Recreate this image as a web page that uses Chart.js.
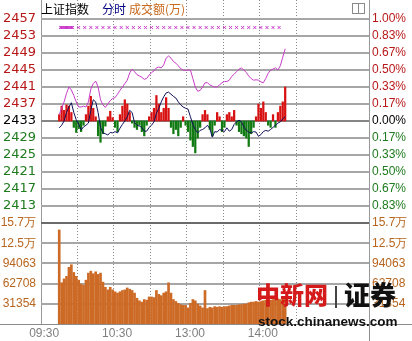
<!DOCTYPE html>
<html>
<head>
<meta charset="utf-8">
<script src="https://cdn.jsdelivr.net/npm/chart.js@4.4.1/dist/chart.umd.min.js"></script>
<style>
  html, body { margin: 0; padding: 0; background: #fff; }
  #wrap { position: relative; width: 412px; height: 341px; overflow: hidden; }
  #wrap canvas { position: absolute; left: 0; top: 0; }
  .hd { position: absolute; top: 1px; font: 12px "Noto Sans CJK SC"; line-height: 16px; white-space: nowrap; }
  .icon { position: absolute; left: 352px; top: 3px; width: 11px; height: 9px; border: 1px solid #8a8a8a; }
  .icon:after { content: ""; position: absolute; left: 5px; top: 0; width: 1px; height: 9px; background: #8a8a8a; }
  .wm { position: absolute; white-space: nowrap; }
</style>
</head>
<body>
<div id="wrap">
  <canvas id="myChart" width="412" height="341"></canvas>
  <div class="hd" style="left:41px;color:#000">上证指数</div>
  <div class="hd" style="left:102px;color:#000080">分时</div>
  <div class="hd" style="left:129px;color:#c8691c">成交额(万)</div>
  <div class="icon"></div>
  <div class="wm" style="left:256px;top:278px;font:900 24px 'Noto Sans CJK SC';line-height:32px;color:#d41a1a">中新网</div>
  <div class="wm" style="left:335px;top:286px;width:2px;height:22px;background:#444"></div>
  <div class="wm" style="left:344px;top:277px;font:900 26px 'Noto Sans CJK SC';line-height:34px;color:#111">证券</div>
  <div class="wm" style="left:258px;top:314px;font:bold 13.5px 'Liberation Sans';line-height:16px;color:#111">stock.chinanews.com</div>
</div>
<script>
// prethodno zatvaranje (baseline for red / green)
const PREV_CLOSE = 2433;
const STEP = 2; // minutes between samples

const timeLabels = { 0: "09:30", 60: "10:30", 120: "13:00", 180: "14:00" };
const priceTicks = [2457, 2453, 2449, 2445, 2441, 2437, 2433, 2429, 2425, 2421, 2417, 2413];
const pctLabels = ["1.00%", "0.83%", "0.67%", "0.50%", "0.33%", "0.17%", "0.00%", "0.17%", "0.33%", "0.50%", "0.67%", "0.83%"];
const volTicks = [31354, 62708, 94063, 125417, 156770];
const volLabels = ["31354", "62708", "94063", "12.5万", "15.7万"];

// index (pink)
const indexLine = [
  2434.5, 2436, 2437.5, 2439.5, 2441, 2440.3, 2439, 2437.5, 2436.3, 2436.3,
  2436.5, 2436.3, 2437.5, 2440.5, 2441.8, 2442.4, 2441, 2438, 2436.8, 2436.2,
  2437, 2437.8, 2438.3, 2438.5, 2439.3, 2440.2, 2441, 2441.8, 2442.6, 2444.3,
  2445.2, 2444.6, 2443.9, 2443.6, 2443.3, 2442.8, 2443, 2443.8, 2444.4, 2444.8,
  2445.5, 2445.7, 2445.5, 2446.2, 2447.8, 2448.3, 2447.8, 2447, 2446.6, 2446,
  2445.3, 2445, 2444.9, 2445, 2445, 2443, 2441, 2440, 2440.2, 2441,
  2442, 2442, 2441.5, 2441.2, 2441, 2441, 2441.5, 2442, 2442.3, 2442.3,
  2442.6, 2443.5, 2444, 2444.6, 2445.2, 2445.5, 2445, 2444.4, 2443.6, 2443,
  2442.6, 2442.7, 2442.6, 2442.2, 2442, 2443, 2444.2, 2445, 2445.2, 2445.5,
  2445, 2446, 2448, 2450
];

// second line (navy)
const avgLine = [
  2431.4, 2432, 2433, 2435, 2436.3, 2437.3, 2435, 2433.3, 2432.3, 2430.9,
  2431.6, 2432, 2432.5, 2435.5, 2438, 2437.5, 2435, 2431.5, 2430.2, 2430,
  2429.7, 2430.3, 2430.2, 2430.5, 2430.2, 2431.3, 2432.2, 2433, 2434, 2435.5,
  2435, 2432.6, 2432, 2431.8, 2431.5, 2430.6, 2430.6, 2431.5, 2432, 2432.8,
  2434.8, 2436, 2437.5, 2438.7, 2439.6, 2439.8, 2439.3, 2438.8, 2438.4, 2437.5,
  2436.8, 2436.3, 2436, 2435.8, 2434, 2432.2, 2431, 2430.2, 2430.8, 2431,
  2431.4, 2432, 2431.2, 2429.2, 2430.5, 2430.4, 2431, 2430.8, 2430.5, 2431.4,
  2430.6, 2431, 2432.2, 2432.8, 2433.2, 2432.8, 2431.6, 2430.8, 2430.4, 2430.2,
  2430.5, 2430.4, 2429.4, 2429.8, 2430.5, 2430.8, 2430.6, 2431, 2431.5, 2432,
  2432.5, 2432.8, 2433.5, 2434
];

// red / green bars, points above or below PREV_CLOSE
const strength = [
  1.5, 3.5, 2.5, 3.8, 3.5, 2, -1.5, -2.7, -1.8, -2.5,
  -1, 1.5, 3.5, 5.8, 3, 1, -3.5, -5, -3, -1.2,
  1, 2.3, 0.8, -1.5, -2.5, 1.5, 3.5, 5, 4, 2,
  -0.5, -1.5, -2, -1, -2.5, -3.5, -1, 1, 2, 3,
  6, 4, 2, 3, 5.5, 3, -1.5, -3, -2, -3.5,
  -1.5, 1, -1, -2.5, -4.5, -6, -7.5, -4, -1.5, 1.5,
  2.5, 1.5, -2, -3.5, -1, 2, 1, -2.5, -1.5, 1.5,
  2, 1, 2.5, -1, -2.5, -3, -3.5, -4, -6, -3,
  -1.5, 1, 4, 3, 4.5, 2, -1, -1.5, 1.5, -1.5,
  2, 3.5, 4.5, 8
];

// 成交额
const volume = [
  146000, 64000, 70000, 74000, 88000, 92000, 80000, 74000, 68000, 62000,
  60000, 68000, 79000, 82000, 78000, 81000, 77000, 79000, 65000, 57000,
  53000, 57000, 53000, 50000, 48000, 50000, 52000, 53000, 56000, 54000,
  52000, 48000, 40000, 36000, 34000, 38000, 37000, 42000, 42000, 41000,
  52000, 46000, 44000, 48000, 50000, 64000, 48000, 38000, 35000, 32000,
  30000, 29000, 29000, 25000, 32000, 38000, 36000, 31000, 28000, 25000,
  52000, 24000, 26000, 25000, 27000, 26000, 27000, 26000, 27000, 27000,
  28000, 29000, 29000, 29000, 30000, 30000, 31000, 31000, 33000, 34000,
  34000, 35000, 34000, 35000, 36000, 37000, 36000, 37000, 38000, 37000,
  39000, 38000, 40000, 42000
];

const crossMinutes = [1, 2, 3, 4, 5, 6, 7, 8, 9, 10, 11, 16, 21, 26, 31, 36, 41, 46, 51, 56, 61, 66, 71, 76,
  81, 86, 91, 96, 101, 106, 111, 116, 121, 126, 131, 136, 141, 146, 151, 156, 161, 166, 171, 176, 181];
const CROSS_LEVEL = 2455;

const UP = "#d81212";
const DOWN = "#127a12";
const VOL = "#cc6a26";
const RED_TXT = "#b81818";
const GREEN_TXT = "#1e7b1e";
const VOL_TXT = "#b8651e";
const GRID = "#a6a6a6";

const PRICE_MIN = 2409;
const PRICE_MAX = 2409 + 223 * 4 / 17;
const VOL_MAX = 156770;

const pts = (arr) => arr.map((v, i) => ({ x: i * STEP, y: v }));

const fixWidth = (w) => (s) => {
  s.width = w;
  s.paddingTop = 0;
  s.paddingBottom = 0;
};

const priceColor = (v) => (v > PREV_CLOSE ? RED_TXT : v < PREV_CLOSE ? GREEN_TXT : "#000");

// horizontal grid rows taken from the y scales, zero line, separator, bottom rule
const frame = {
  id: "frame",
  beforeDatasetsDraw(chart) {
    const { ctx, chartArea: a, scales } = chart;
    const w = a.right - a.left;
    const row = (py, color) => {
      ctx.fillStyle = color;
      ctx.fillRect(a.left, Math.round(py) - 1, w, 2);
    };
    ctx.save();
    priceTicks.forEach((v) => {
      if (v !== PREV_CLOSE) row(scales.yP.getPixelForValue(v), GRID);
    });
    volTicks.forEach((v) => {
      if (v !== VOL_MAX) row(scales.yV.getPixelForValue(v), GRID);
    });
    row(scales.yP.getPixelForValue(PREV_CLOSE), "#858585");
    row(scales.yP.getPixelForValue(PRICE_MIN), "#6a6a6a");
    ctx.restore();
  },
  afterDraw(chart) {
    const { ctx, chartArea: a } = chart;
    ctx.save();
    ctx.fillStyle = "#8c8c8c";
    ctx.fillRect(0, a.bottom, chart.width, 1);
    ctx.fillRect(a.right, a.bottom, 1, chart.height - a.bottom);
    ctx.restore();
  },
};

const ctx = document.getElementById("myChart").getContext("2d");

new Chart(ctx, {
  data: {
    datasets: [
      {
        type: "line",
        data: crossMinutes.map((m) => ({ x: m, y: CROSS_LEVEL })),
        yAxisID: "yP",
        showLine: false,
        pointStyle: "crossRot",
        pointRadius: 2,
        borderColor: "#c832c8",
        borderWidth: 1,
      },
      {
        type: "line",
        data: pts(indexLine),
        yAxisID: "yP",
        borderColor: "#c83cc8",
        borderWidth: 1,
        pointRadius: 0,
        tension: 0,
      },
      {
        type: "line",
        data: pts(avgLine),
        yAxisID: "yP",
        borderColor: "#10105a",
        borderWidth: 1,
        pointRadius: 0,
        tension: 0,
      },
      {
        type: "bar",
        data: pts(strength.map((d) => PREV_CLOSE + d)),
        yAxisID: "yP",
        base: PREV_CLOSE,
        grouped: false,
        barThickness: 1.6,
        backgroundColor: (c) => (c.raw && c.raw.y >= PREV_CLOSE ? UP : DOWN),
      },
      {
        type: "bar",
        data: pts(volume),
        yAxisID: "yV",
        grouped: false,
        barThickness: 2,
        backgroundColor: VOL,
      },
    ],
  },
  options: {
    responsive: false,
    animation: false,
    events: [],
    layout: { padding: 0, autoPadding: false },
    plugins: { legend: { display: false }, tooltip: { enabled: false } },
    scales: {
      x: {
        type: "linear",
        min: 0,
        max: 240,
        afterBuildTicks: (s) => {
          s.ticks = [0, 30, 60, 90, 120, 150, 180, 210, 240].map((value) => ({ value }));
        },
        afterFit: (s) => {
          s.height = 17;
          s.paddingLeft = 0;
          s.paddingRight = 0;
        },
        grid: {
          drawTicks: false,
          lineWidth: 1,
          color: (c) => (c.tick && (c.tick.value === 0 || c.tick.value === 240) ? "rgba(0,0,0,0)" : "#8a8a8a"),
        },
        border: { display: false, dash: [1, 2] },
        ticks: {
          align: "end",
          autoSkip: false,
          maxRotation: 0,
          padding: 2,
          color: "#7f7f7f",
          font: { family: "Liberation Sans", size: 12 },
          callback: (v) => timeLabels[v] || "",
        },
      },
      yP: {
        type: "linear",
        position: "left",
        stack: "L",
        stackWeight: 223,
        weight: 1,
        min: PRICE_MIN,
        max: PRICE_MAX,
        afterBuildTicks: (s) => {
          s.ticks = priceTicks.slice().reverse().map((value) => ({ value }));
        },
        afterFit: fixWidth(41),
        grid: { display: false, drawTicks: false },
        border: { color: "#999" },
        ticks: {
          autoSkip: false,
          maxTicksLimit: 100,
          padding: 5,
          font: { family: "DejaVu Sans", size: 13 },
          color: (c) => priceColor(c.tick.value),
          callback: (v) => String(v),
        },
      },
      yV: {
        type: "linear",
        position: "left",
        stack: "L",
        stackWeight: 101,
        weight: 0,
        min: 0,
        max: VOL_MAX,
        afterBuildTicks: (s) => {
          s.ticks = volTicks.map((value) => ({ value }));
        },
        afterFit: fixWidth(41),
        grid: { display: false, drawTicks: false },
        border: { color: "#999" },
        ticks: {
          autoSkip: false,
          maxTicksLimit: 100,
          padding: 5,
          font: { family: "Liberation Sans", size: 12 },
          color: VOL_TXT,
          callback: (v) => volLabels[volTicks.indexOf(v)],
        },
      },
      yPct: {
        type: "linear",
        position: "right",
        stack: "R",
        stackWeight: 223,
        weight: 0,
        min: PRICE_MIN,
        max: PRICE_MAX,
        afterBuildTicks: (s) => {
          s.ticks = priceTicks.slice().reverse().map((value) => ({ value }));
        },
        afterFit: fixWidth(43),
        grid: { display: false, drawTicks: false },
        border: { color: "#999" },
        ticks: {
          autoSkip: false,
          maxTicksLimit: 100,
          padding: 3,
          font: { family: "Liberation Sans", size: 12 },
          color: (c) => priceColor(c.tick.value),
          callback: (v) => pctLabels[priceTicks.indexOf(v)],
        },
      },
      yVR: {
        type: "linear",
        position: "right",
        stack: "R",
        stackWeight: 101,
        weight: 1,
        min: 0,
        max: VOL_MAX,
        afterBuildTicks: (s) => {
          s.ticks = volTicks.map((value) => ({ value }));
        },
        afterFit: fixWidth(43),
        grid: { display: false, drawTicks: false },
        border: { color: "#999" },
        ticks: {
          autoSkip: false,
          maxTicksLimit: 100,
          padding: 3,
          font: { family: "Liberation Sans", size: 12 },
          color: VOL_TXT,
          callback: (v) => volLabels[volTicks.indexOf(v)],
        },
      },
    },
  },
  plugins: [frame],
});
</script>
</body>
</html>
